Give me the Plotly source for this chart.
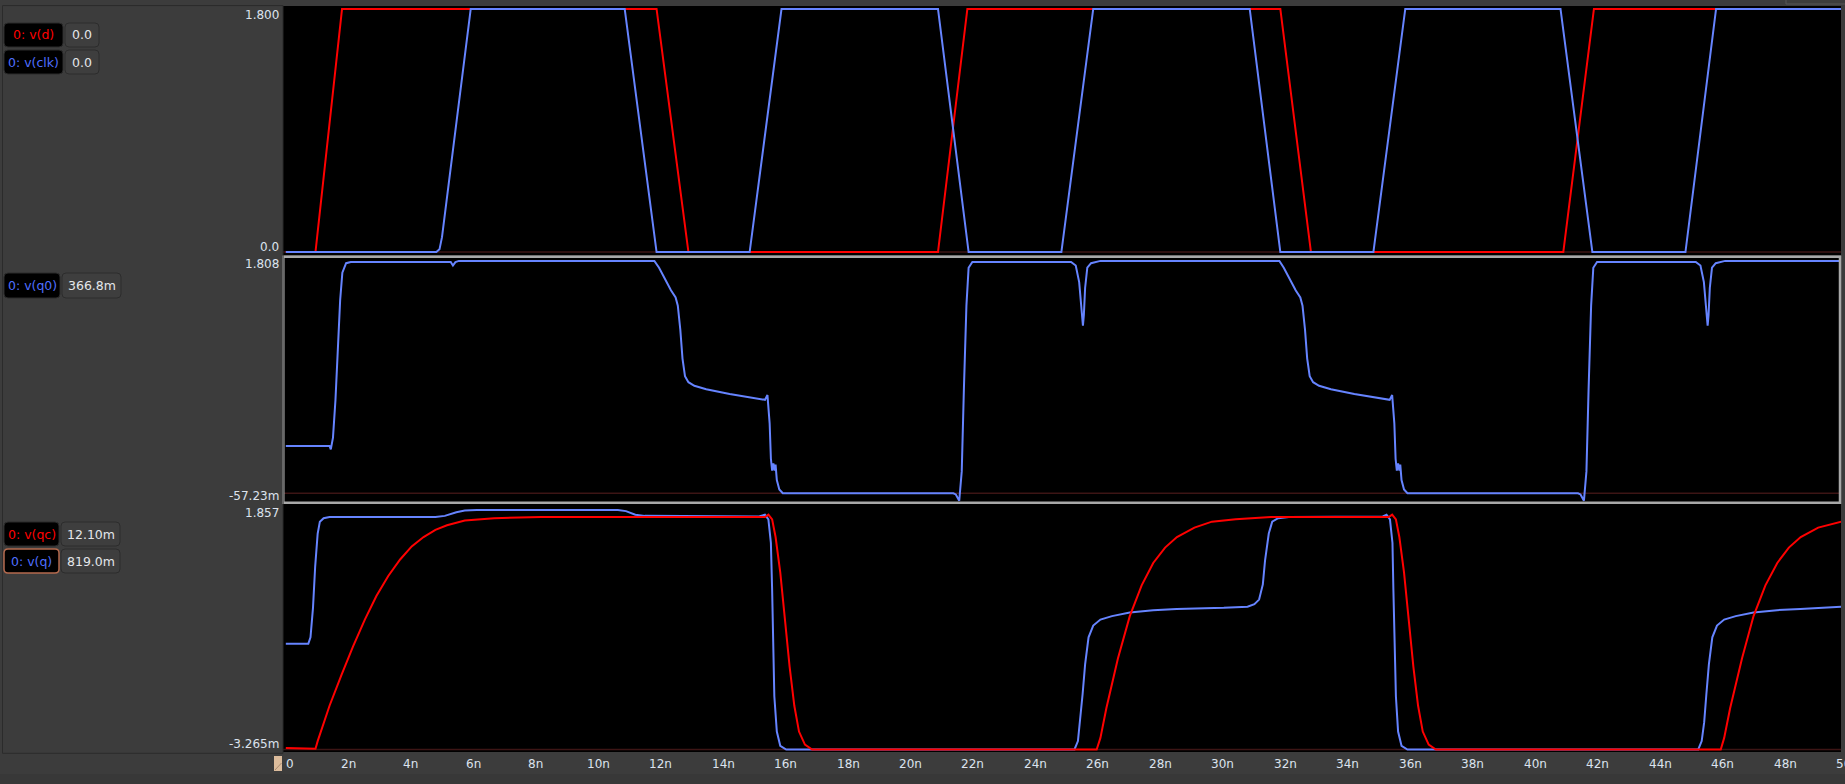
import plotly.graph_objects as go

W, H = 1845, 784

# ---------------- data (time in ns, voltage in V) ----------------
d_pts = [(0, 0), (0.95, 0), (1.8, 1.8), (11.87, 1.8), (12.89, 0), (20.88, 0), (21.82, 1.8),
         (31.84, 1.8), (32.82, 0), (40.9, 0), (41.88, 1.8), (49.8, 1.8)]

clk_pts = [(0, 0), (4.82, 0), (4.92, 0.02), (5.0, 0.11), (5.92, 1.8), (10.85, 1.8), (11.87, 0),
           (14.85, 0), (15.87, 1.8), (20.88, 1.8), (21.86, 0), (24.83, 0), (25.85, 1.8),
           (30.86, 1.8), (31.84, 0), (34.82, 0), (35.84, 1.8), (40.81, 1.8), (41.83, 0),
           (44.81, 0), (45.79, 1.8), (49.8, 1.8)]

q0_pts = [(0, 0.367), (1.40, 0.367), (1.44, 0.341), (1.51, 0.432), (1.59, 0.725), (1.66, 1.09),
          (1.74, 1.50), (1.81, 1.712), (1.93, 1.785), (2.08, 1.794), (5.28, 1.794), (5.35, 1.767),
          (5.43, 1.794), (5.54, 1.803),
          (11.80, 1.803), (11.95, 1.75), (12.14, 1.657), (12.33, 1.575), (12.48, 1.52),
          (12.55, 1.456), (12.63, 1.27), (12.70, 1.045), (12.78, 0.908), (12.89, 0.862),
          (13.08, 0.834), (13.46, 0.807), (14.21, 0.771), (14.96, 0.743), (15.34, 0.725),
          (15.42, 0.762), (15.49, 0.543), (15.53, 0.268), (15.57, 0.176), (15.61, 0.231),
          (15.65, 0.176), (15.68, 0.222), (15.72, 0.103), (15.80, 0.03), (15.91, 0.0),
          (21.37, 0.0), (21.45, -0.009), (21.56, -0.057), (21.64, 0.17), (21.71, 0.816),
          (21.79, 1.456), (21.86, 1.75), (21.98, 1.794),
          (25.14, 1.794), (25.29, 1.767), (25.40, 1.639), (25.48, 1.438), (25.52, 1.30),
          (25.55, 1.383), (25.59, 1.593), (25.66, 1.75), (25.78, 1.785), (26.08, 1.803),
          (31.81, 1.803), (31.95, 1.75), (32.14, 1.657), (32.33, 1.575), (32.48, 1.52),
          (32.55, 1.456), (32.63, 1.27), (32.70, 1.045), (32.78, 0.908), (32.89, 0.862),
          (33.08, 0.834), (33.46, 0.807), (34.21, 0.771), (34.96, 0.743), (35.34, 0.725),
          (35.42, 0.762), (35.49, 0.543), (35.53, 0.268), (35.57, 0.176), (35.61, 0.231),
          (35.65, 0.176), (35.68, 0.222), (35.72, 0.103), (35.80, 0.03), (35.91, 0.0),
          (41.37, 0.0), (41.45, -0.009), (41.56, -0.057), (41.64, 0.17), (41.71, 0.816),
          (41.79, 1.456), (41.86, 1.75), (41.98, 1.794),
          (45.14, 1.794), (45.29, 1.767), (45.40, 1.639), (45.48, 1.438), (45.52, 1.30),
          (45.55, 1.383), (45.59, 1.593), (45.66, 1.75), (45.78, 1.785), (46.08, 1.803),
          (49.8, 1.803)]

q_pts = [(0, 0.819), (0.72, 0.819), (0.79, 0.87), (0.87, 1.098), (0.94, 1.418), (1.02, 1.674),
         (1.09, 1.766), (1.21, 1.793), (1.40, 1.802), (4.79, 1.802), (5.09, 1.811),
         (5.46, 1.839), (5.73, 1.852), (6.11, 1.857), (10.63, 1.857), (10.89, 1.848),
         (11.19, 1.82), (11.49, 1.811), (15.15, 1.807), (15.34, 1.82), (15.45, 1.784),
         (15.53, 1.601), (15.57, 1.235), (15.60, 0.778), (15.64, 0.413), (15.72, 0.139),
         (15.83, 0.029), (16.02, 0.0), (25.25, 0.0), (25.36, 0.065), (25.43, 0.212),
         (25.51, 0.43), (25.59, 0.66), (25.70, 0.87), (25.85, 0.961), (26.08, 1.007),
         (26.45, 1.034), (27.02, 1.062), (27.77, 1.08), (28.52, 1.089), (30.03, 1.098),
         (30.79, 1.107), (31.01, 1.126), (31.16, 1.162), (31.28, 1.28), (31.35, 1.464),
         (31.47, 1.674), (31.58, 1.766), (31.77, 1.793), (32.11, 1.802), (35.12, 1.807),
         (35.24, 1.82), (35.35, 1.784), (35.43, 1.601), (35.46, 1.235), (35.50, 0.778),
         (35.54, 0.413), (35.61, 0.139), (35.72, 0.029), (35.91, 0.0), (45.22, 0.0),
         (45.33, 0.065), (45.41, 0.212), (45.48, 0.43), (45.56, 0.66), (45.67, 0.87),
         (45.82, 0.961), (46.05, 1.007), (46.42, 1.034), (46.99, 1.062), (47.74, 1.08),
         (48.49, 1.089), (49.8, 1.107)]

qc_pts = [(0, 0.0121), (0.95, 0.005), (1.02, 0.065), (1.21, 0.211), (1.40, 0.339), (1.78, 0.577),
          (2.15, 0.797), (2.53, 1.007), (2.90, 1.19), (3.28, 1.345), (3.66, 1.473),
          (4.03, 1.574), (4.41, 1.647), (4.79, 1.702), (5.16, 1.738), (5.73, 1.775),
          (6.67, 1.793), (8.18, 1.802), (15.34, 1.802), (15.45, 1.82), (15.57, 1.784),
          (15.68, 1.647), (15.83, 1.373), (15.98, 1.007), (16.13, 0.641), (16.28, 0.339),
          (16.43, 0.139), (16.62, 0.038), (16.85, 0.0), (25.96, 0.0), (26.08, 0.09),
          (26.27, 0.32), (26.64, 0.705), (27.02, 1.034), (27.40, 1.272), (27.77, 1.446),
          (28.15, 1.565), (28.53, 1.647), (29.09, 1.72), (29.65, 1.766), (30.41, 1.784),
          (31.54, 1.802), (35.31, 1.802), (35.42, 1.82), (35.54, 1.784), (35.65, 1.647),
          (35.80, 1.373), (35.95, 1.007), (36.10, 0.641), (36.25, 0.339), (36.40, 0.139),
          (36.59, 0.038), (36.82, 0.0), (45.94, 0.0), (46.05, 0.09), (46.24, 0.32),
          (46.62, 0.705), (46.99, 1.034), (47.37, 1.272), (47.75, 1.446), (48.12, 1.565),
          (48.50, 1.647), (49.06, 1.72), (49.8, 1.766)]

tick_vals = [0, 2, 4, 6, 8, 10, 12, 14, 16, 18, 20, 22, 24, 26, 28, 30, 32, 34, 36, 38, 40,
             42, 44, 46, 48, 50]
tick_text = ["0", "2n", "4n", "6n", "8n", "10n", "12n", "14n", "16n", "18n", "20n", "22n",
             "24n", "26n", "28n", "30n", "32n", "34n", "36n", "38n", "40n", "42n", "44n",
             "46n", "48n", "50n"]

# axis limit labels per panel
lim_top = [(1.8, "1.800"), (0.0, "0.0")]
lim_mid = [(1.808, "1.808"), (-0.05723, "-57.23m")]
lim_bot = [(1.857, "1.857"), (-0.003265, "-3.265m")]

# legend entries (name, value)
leg_top = [("0: v(d)", "0.0"), ("0: v(clk)", "0.0")]
leg_mid = [("0: v(q0)", "366.8m")]
leg_bot = [("0: v(qc)", "12.10m"), ("0: v(q)", "819.0m")]

# ---------------- styling ----------------
BG = "#3c3c3c"
RED = "#ff0000"
BLUE = "#6684ff"
TXT = "#dce3ee"
FONT = "DejaVu Sans"
ZERO = "#3d1515"


def px(x):
    return x / W


def py(y):
    return 1 - y / H


def split(pts):
    return [p[0] for p in pts], [p[1] for p in pts]


fig = go.Figure()


def add(pts, color, ax):
    t, v = split(pts)
    fig.add_trace(go.Scatter(x=t, y=v, mode="lines", xaxis="x" + ax, yaxis="y" + ax,
                             line=dict(color=color, width=2), hoverinfo="skip",
                             showlegend=False))


add(d_pts, RED, "")
add(clk_pts, BLUE, "")
add(q0_pts, BLUE, "2")
add(q_pts, BLUE, "3")
add(qc_pts, RED, "3")

PX0, PX1 = 283, 1841
XD = [px(PX0), px(PX1)]
XR = [-0.09, 49.79]

ax_common = dict(visible=False, showgrid=False, zeroline=False, fixedrange=True)
fig.update_layout(
    width=W, height=H, autosize=False,
    margin=dict(l=0, r=0, t=0, b=0),
    paper_bgcolor=BG, plot_bgcolor="#000000",
    showlegend=False,
    font=dict(family=FONT, size=12, color=TXT),
    xaxis=dict(domain=XD, range=XR, anchor="y", **ax_common),
    xaxis2=dict(domain=XD, range=XR, anchor="y2", matches="x", **ax_common),
    xaxis3=dict(domain=XD, range=XR, anchor="y3", matches="x", **ax_common),
    yaxis=dict(domain=[py(255), py(6)], range=[-0.022, 1.822], anchor="x", **ax_common),
    yaxis2=dict(domain=[py(503), py(256)], range=[-0.0753, 1.841], anchor="x2", **ax_common),
    yaxis3=dict(domain=[py(752), py(504)], range=[-0.0194, 1.903], anchor="x3", **ax_common),
)

shapes = []
# zero lines
for ax in ["", "2", "3"]:
    shapes.append(dict(type="line", xref="x" + ax, yref="y" + ax,
                       x0=XR[0], x1=XR[1], y0=0, y1=0, line=dict(color=ZERO, width=1.5),
                       layer="below"))
# middle panel border (selected pane)
shapes.append(dict(type="rect", xref="paper", yref="paper", x0=px(283.3), x1=px(1840),
                   y0=py(502.7), y1=py(256.7), line=dict(color="#a8a8a8", width=2.5),
                   fillcolor="rgba(0,0,0,0)", layer="above"))
# left pane border
shapes.append(dict(type="rect", xref="paper", yref="paper", x0=px(2.5), x1=px(283),
                   y0=py(753.3), y1=py(5.6), line=dict(color="#2b2b2b", width=1),
                   fillcolor="rgba(0,0,0,0)", layer="above"))
# bottom strip
shapes.append(dict(type="rect", xref="paper", yref="paper", x0=0, x1=1, y0=0, y1=py(774),
                   line=dict(width=0), fillcolor="#383838", layer="above"))
# top-right tab
shapes.append(dict(type="rect", xref="paper", yref="paper", x0=px(1786), x1=px(1850),
                   y0=py(4), y1=py(-5), line=dict(color="#565656", width=1),
                   fillcolor=BG, layer="above"))
# little cursor icon
shapes.append(dict(type="rect", xref="paper", yref="paper", x0=px(274), x1=px(282),
                   y0=py(771), y1=py(756), line=dict(width=0), fillcolor="#dcbc9c",
                   layer="above"))
shapes.append(dict(type="line", xref="paper", yref="paper", x0=px(275), x1=px(281.5),
                   y0=py(770), y1=py(763), line=dict(color="#a88a70", width=1),
                   layer="above"))


def rrect(x0, y0, x1, y1, r, fill, line, lw=1):
    rx, ry = r / W, r / H
    X0, X1, Y0, Y1 = px(x0), px(x1), py(y0), py(y1)
    path = (f"M {X0 + rx},{Y0} L {X1 - rx},{Y0} Q {X1},{Y0} {X1},{Y0 - ry} "
            f"L {X1},{Y1 + ry} Q {X1},{Y1} {X1 - rx},{Y1} L {X0 + rx},{Y1} "
            f"Q {X0},{Y1} {X0},{Y1 + ry} L {X0},{Y0 - ry} Q {X0},{Y0} {X0 + rx},{Y0} Z")
    return dict(type="path", xref="paper", yref="paper", path=path, fillcolor=fill,
                line=dict(color=line, width=lw), layer="above")


annotations = []


def legend(entries, colors, boxes, vboxes, borders):
    for (name, val), col, b, vb, bc in zip(entries, colors, boxes, vboxes, borders):
        shapes.append(rrect(b[0], b[1], b[2], b[3], 4, "#000000", bc[0], bc[1]))
        shapes.append(rrect(vb[0], vb[1], vb[2], vb[3], 4, "#3e3e3e", "#2c2c2c", 1))
        annotations.append(dict(xref="paper", yref="paper", x=px((b[0] + b[2]) / 2),
                                y=py((b[1] + b[3]) / 2), text=name, showarrow=False,
                                xanchor="center", yanchor="middle",
                                font=dict(color=col, size=12.5, family=FONT)))
        annotations.append(dict(xref="paper", yref="paper", x=px((vb[0] + vb[2]) / 2),
                                y=py((vb[1] + vb[3]) / 2), text=val, showarrow=False,
                                xanchor="center", yanchor="middle",
                                font=dict(color="#e4e6ea", size=12.5, family=FONT)))


LEGBLUE = "#4f6fff"
legend(leg_top, [RED, LEGBLUE], [(4, 23, 63, 47), (4, 50, 63, 74)],
       [(65, 23, 99, 47), (65, 50, 99, 74)], [("#2a2a2a", 1), ("#2a2a2a", 1)])
legend(leg_mid, [LEGBLUE], [(4, 273, 60, 298)], [(62, 273, 121, 298)], [("#2a2a2a", 1)])
legend(leg_bot, [RED, LEGBLUE], [(4, 522, 59, 546), (4, 549, 59, 573)],
       [(61, 522, 120, 546), (61, 549, 120, 573)], [("#2a2a2a", 1), ("#b46a4e", 1.5)])

# axis limit labels
for lims, yax, shifts in [(lim_top, "y", (-6, 5.5)), (lim_mid, "y2", (-4, 5)),
                          (lim_bot, "y3", (-3, 6))]:
    for (val, txt), sh in zip(lims, shifts):
        annotations.append(dict(xref="paper", yref=yax, x=px(280.5), y=val, yshift=sh,
                                text=txt, showarrow=False, xanchor="right",
                                yanchor="middle", font=dict(color=TXT, size=12, family=FONT)))

# time tick labels (positioned through the x-axis mapping; the last one is clipped at the edge)
for tv, tt in zip(tick_vals, tick_text):
    xp = (PX0 + (tv - XR[0]) / (XR[1] - XR[0]) * (PX1 - PX0)) / W
    annotations.append(dict(xref="paper", yref="paper", x=xp, y=py(764),
                            xshift=4 if tv == 0 else 0, text=tt, showarrow=False,
                            xanchor="center", yanchor="middle",
                            font=dict(color=TXT, size=12, family=FONT)))

fig.update_layout(shapes=shapes, annotations=annotations)
fig.write_html("out.html", config={"displayModeBar": False})
